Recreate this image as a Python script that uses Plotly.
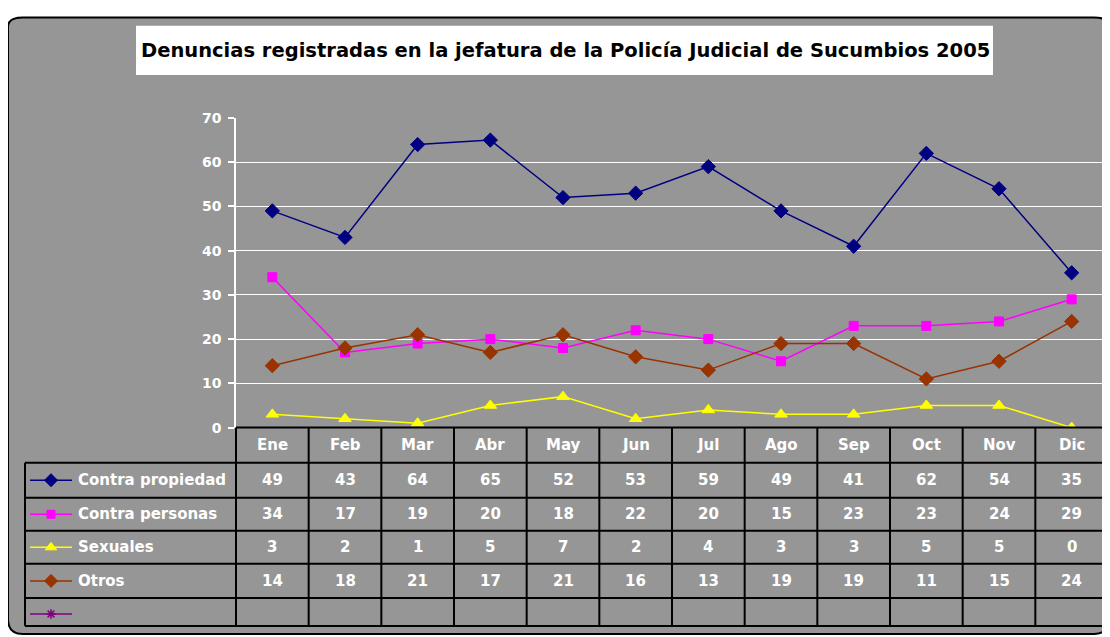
import plotly.graph_objects as go

# ---------------- data ----------------
months = ["Ene", "Feb", "Mar", "Abr", "May", "Jun", "Jul", "Ago", "Sep", "Oct", "Nov", "Dic"]
series_names = ["Contra propiedad", "Contra personas", "Sexuales", "Otros", ""]
contra_propiedad = [49, 43, 64, 65, 52, 53, 59, 49, 41, 62, 54, 35]
contra_personas = [34, 17, 19, 20, 18, 22, 20, 15, 23, 23, 24, 29]
sexuales = [3, 2, 1, 5, 7, 2, 4, 3, 3, 5, 5, 0]
otros = [14, 18, 21, 17, 21, 16, 13, 19, 19, 11, 15, 24]
vacio = [None] * 12
y_ticks = [0, 10, 20, 30, 40, 50, 60, 70]
title_text = "Denuncias registradas en la jefatura de la Policía Judicial de Sucumbios 2005"

# ---------------- styles ----------------
W, H = 1110, 637
OX = 8                 # horizontal page offset of the figure
OY, SY = 16.2, 0.973   # observed vertical offset / scale of the photographed page
FONT = "DejaVu Sans, Liberation Sans, Arial, sans-serif"
GRAY = "#969696"
styles = [
    dict(color="#000080", symbol="diamond", size=11),
    dict(color="#FF00FF", symbol="square", size=9),
    dict(color="#FFFF00", symbol="triangle-up", size=11),
    dict(color="#993300", symbol="diamond", size=11),
    dict(color="#800080", symbol="asterisk-open", size=9),
]
all_series = [contra_propiedad, contra_personas, sexuales, otros, vacio]


def px(x):
    return (x - OX) / W


def py(y):
    return min(1 - ((y - OY) / SY) / H, 1 - 1.5 / H)


# layout positions in target pixels
PL, PR, PT, PB = 236, 1108, 118, 427
colw = (PR - PL) / len(months)
row_lines = [462, 497, 530, 563, 597, 625]
TL = 25

fig = go.Figure()

for name, vals, st in zip(series_names, all_series, styles):
    if name == "":
        continue
    fig.add_trace(go.Scatter(
        x=list(range(len(months))), y=vals, mode="lines+markers", name=name,
        line=dict(color=st["color"], width=1.5),
        marker=dict(symbol=st["symbol"], size=st["size"], color=st["color"],
                    line=dict(color=st["color"], width=1)),
        xaxis="x", yaxis="y", showlegend=False,
    ))

# legend keys inside the data table (pixel overlay axis)
for i, st in enumerate(styles):
    cy = (row_lines[i] + row_lines[i + 1]) / 2 + (2 if i == 4 else 0)
    fig.add_trace(go.Scatter(
        x=[30, 72], y=[cy, cy], mode="lines", line=dict(color=st["color"], width=1.5),
        xaxis="x2", yaxis="y2", showlegend=False, hoverinfo="skip"))
    fig.add_trace(go.Scatter(
        x=[51], y=[cy], mode="markers",
        marker=dict(symbol=st["symbol"], size=st["size"] - 1, color=st["color"],
                    line=dict(color=st["color"], width=1.5 if st["symbol"] == "asterisk-open" else 1)),
        xaxis="x2", yaxis="y2", showlegend=False, hoverinfo="skip"))

shapes = []
# rounded gray chart area
L, T, R, B, r = 8, 12, 1109, 633, 15
path = (f"M {px(L + r)},{py(T)} L {px(R - r)},{py(T)} Q {px(R)},{py(T)} {px(R)},{py(T + r)} "
        f"L {px(R)},{py(B - r)} Q {px(R)},{py(B)} {px(R - r)},{py(B)} "
        f"L {px(L + r)},{py(B)} Q {px(L)},{py(B)} {px(L)},{py(B - r)} "
        f"L {px(L)},{py(T + r)} Q {px(L)},{py(T)} {px(L + r)},{py(T)} Z")
shapes.append(dict(type="path", path=path, xref="paper", yref="paper", layer="below",
                   fillcolor=GRAY, line=dict(color="black", width=2)))
# title box
shapes.append(dict(type="rect", xref="paper", yref="paper", x0=px(136), x1=px(993), y0=py(75), y1=py(26),
                   fillcolor="white", line=dict(width=0), layer="above"))

# table lines
lc = dict(color="black", width=2)
shapes.append(dict(type="line", xref="paper", yref="paper", x0=px(PL), x1=px(PR), y0=py(PB), y1=py(PB), line=lc))
for yl in row_lines:
    shapes.append(dict(type="line", xref="paper", yref="paper", x0=px(TL), x1=px(PR), y0=py(yl), y1=py(yl), line=lc))
shapes.append(dict(type="line", xref="paper", yref="paper", x0=px(TL), x1=px(TL),
                   y0=py(row_lines[0]), y1=py(row_lines[-1]), line=lc))
for k in range(len(months) + 1):
    xx = PL + colw * k
    shapes.append(dict(type="line", xref="paper", yref="paper", x0=px(xx), x1=px(xx),
                       y0=py(PB), y1=py(row_lines[-1]), line=lc))

annotations = []
annotations.append(dict(text=f"<b>{title_text}</b>", xref="paper", yref="paper",
                        x=px(565), y=py(50.5), showarrow=False, xanchor="center", yanchor="middle",
                        font=dict(family=FONT, size=19.5, color="black")))
tfont = dict(family=FONT, size=15, color="white")
for i, m in enumerate(months):
    cx = PL + colw * (i + 0.5)
    annotations.append(dict(text=f"<b>{m}</b>", xref="paper", yref="paper", x=px(cx), y=py((PB + row_lines[0]) / 2),
                            showarrow=False, xanchor="center", yanchor="middle", font=tfont))
for r_i, (name, vals) in enumerate(zip(series_names, all_series)):
    cy = (row_lines[r_i] + row_lines[r_i + 1]) / 2
    if name:
        annotations.append(dict(text=f"<b>{name}</b>", xref="paper", yref="paper", x=px(76), y=py(cy),
                                showarrow=False, xanchor="left", yanchor="middle", font=tfont))
    for i, v in enumerate(vals):
        if v is None:
            continue
        cx = PL + colw * (i + 0.5)
        annotations.append(dict(text=f"<b>{v}</b>", xref="paper", yref="paper", x=px(cx), y=py(cy),
                                showarrow=False, xanchor="center", yanchor="middle", font=tfont))

fig.update_layout(
    width=W, height=H, autosize=False, margin=dict(l=0, r=0, t=0, b=0),
    paper_bgcolor="white", plot_bgcolor="rgba(0,0,0,0)",
    showlegend=False, shapes=shapes, annotations=annotations,
    xaxis=dict(domain=[px(PL), px(PR)], range=[-0.5, len(months) - 0.5], showgrid=False,
               showticklabels=False, zeroline=False, showline=False, ticks="", fixedrange=True),
    yaxis=dict(domain=[py(PB), py(PT)], range=[0, 70], tickvals=y_ticks,
               ticktext=[f"<b>{t}</b>" for t in y_ticks],
               showgrid=True, gridcolor="white", gridwidth=1.2, zeroline=False,
               showline=True, linecolor="white", linewidth=1.5, ticks="outside", ticklen=6,
               tickcolor="white", tickwidth=1.5, ticklabelstandoff=4,
               tickfont=dict(family=FONT, size=14, color="white")),
    xaxis2=dict(domain=[0, 1], range=[OX, W + OX], visible=False, fixedrange=True),
    yaxis2=dict(domain=[0, 1], range=[OY + SY * H, OY], visible=False, fixedrange=True, anchor="x2"),
)
for tr in fig.data:
    if tr.xaxis == "x2":
        tr.update(yaxis="y2")

fig.write_html("out.html")
